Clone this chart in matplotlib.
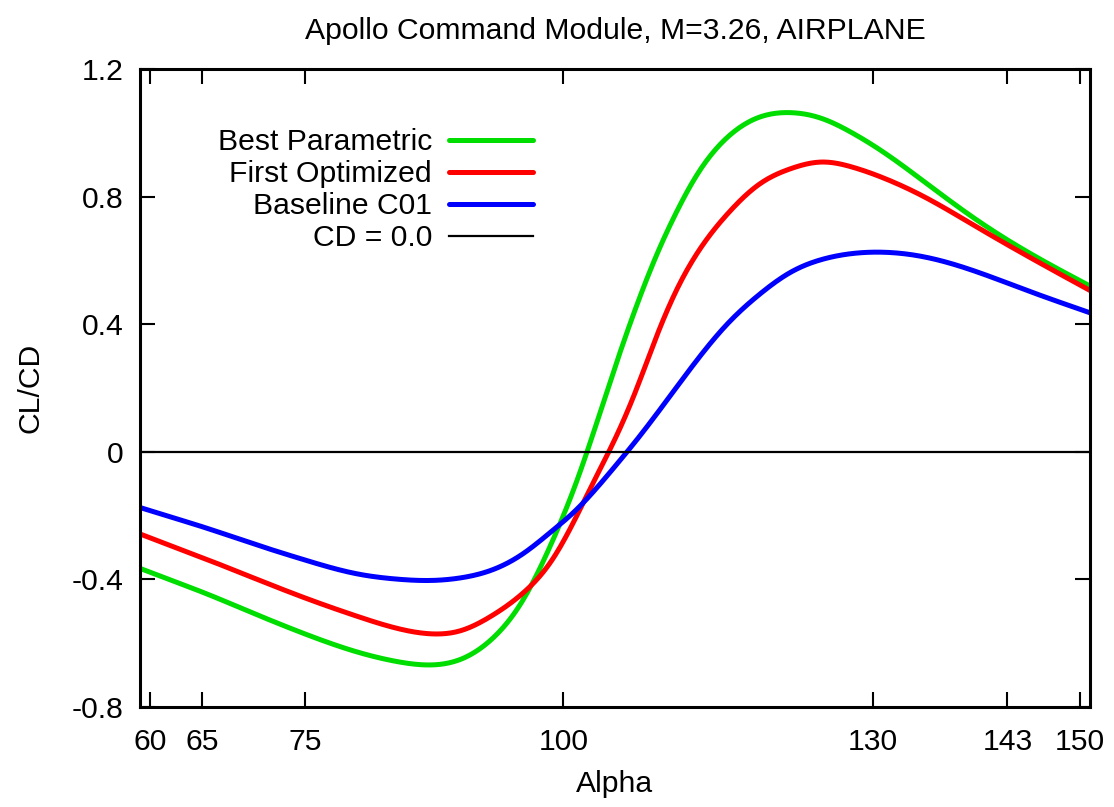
import numpy as np
import matplotlib
matplotlib.use("Agg")
import matplotlib.pyplot as plt

# ---- data ----
alpha = [59, 62, 65, 70, 75, 80, 84, 87, 90, 93, 96, 99, 101, 103, 105, 107,
         109, 111, 113, 116, 119, 122, 125, 128, 131, 135, 140, 145, 151]
best_parametric = [-0.366, -0.403, -0.440, -0.507, -0.572, -0.628, -0.659, -0.669,
                   -0.652, -0.590, -0.470, -0.276, -0.118, 0.068, 0.265, 0.450,
                   0.615, 0.755, 0.872, 0.990, 1.050, 1.064, 1.046, 1.000,
                   0.940, 0.846, 0.728, 0.626, 0.520]
first_optimized = [-0.258, -0.295, -0.332, -0.396, -0.459, -0.516, -0.555, -0.571,
                   -0.562, -0.516, -0.446, -0.335, -0.220, -0.090, 0.040, 0.190,
                   0.360, 0.510, 0.625, 0.750, 0.840, 0.888, 0.909, 0.893,
                   0.859, 0.799, 0.706, 0.613, 0.506]
baseline_c01 = [-0.175, -0.205, -0.235, -0.289, -0.340, -0.383, -0.400, -0.404,
                -0.396, -0.372, -0.322, -0.246, -0.190, -0.122, -0.046, 0.033,
                0.117, 0.204, 0.290, 0.405, 0.494, 0.563, 0.603, 0.622,
                0.626, 0.611, 0.565, 0.505, 0.436]

series_labels = ["Best Parametric", "First Optimized", "Baseline C01"]
series_colors = ["#00dd00", "#ff0000", "#0000ff"]
x_ticks = [60, 65, 75, 100, 130, 143, 150]
y_ticks = [-0.8, -0.4, 0, 0.4, 0.8, 1.2]
y_tick_labels = ["-0.8", "-0.4", "0", "0.4", "0.8", "1.2"]


def natural_spline(x, y, n=600):
    """Render a smooth curve through the data points (natural cubic spline)."""
    x = np.asarray(x, float)
    y = np.asarray(y, float)
    k = len(x)
    h = np.diff(x)
    A = np.zeros((k, k))
    b = np.zeros(k)
    A[0, 0] = A[-1, -1] = 1.0
    for i in range(1, k - 1):
        A[i, i - 1] = h[i - 1]
        A[i, i] = 2 * (h[i - 1] + h[i])
        A[i, i + 1] = h[i]
        b[i] = 3 * ((y[i + 1] - y[i]) / h[i] - (y[i] - y[i - 1]) / h[i - 1])
    c = np.linalg.solve(A, b)
    xs = np.linspace(x[0], x[-1], n)
    idx = np.clip(np.searchsorted(x, xs) - 1, 0, k - 2)
    dx = xs - x[idx]
    hi = h[idx]
    bi = (y[idx + 1] - y[idx]) / hi - hi * (2 * c[idx] + c[idx + 1]) / 3
    di = (c[idx + 1] - c[idx]) / (3 * hi)
    ys = y[idx] + bi * dx + c[idx] * dx ** 2 + di * dx ** 3
    return xs, ys


plt.rcParams["font.family"] = ["Liberation Sans", "DejaVu Sans"]
FS = 21.7

fig = plt.figure(figsize=(11.14, 8.07), dpi=100)
W, H = 1114, 807
ax = fig.add_axes([140 / W, 1 - 706.7 / H, (1090 - 140) / W, (706.7 - 69.3) / H])

for ys, lab, col in zip([best_parametric, first_optimized, baseline_c01],
                        series_labels, series_colors):
    xs, yy = natural_spline(alpha, ys)
    ax.plot(xs, yy, color=col, lw=3.6, label=lab, solid_capstyle="round")

ax.axhline(0, color="black", lw=1.6, label="CD = 0.0")

ax.set_xlim(59, 151)
ax.set_ylim(-0.8, 1.2)
ax.set_xticks(x_ticks)
ax.set_xticklabels([str(t) for t in x_ticks])
ax.set_yticks(y_ticks)
ax.set_yticklabels(y_tick_labels)
ax.tick_params(axis="both", which="major", direction="in", top=True, right=True,
               length=10.8, width=1.5, labelsize=FS)
ax.tick_params(axis="x", pad=15)
ax.tick_params(axis="y", pad=12)
for sp in ax.spines.values():
    sp.set_linewidth(2.2)

ax.set_title("Apollo Command Module, M=3.26, AIRPLANE", fontsize=FS, pad=22)
ax.set_xlabel("Alpha", fontsize=FS)
ax.set_ylabel("CL/CD", fontsize=FS)
ax.xaxis.set_label_coords(0.5, -(770 - 706.7) / 637.4)
ax.yaxis.set_label_coords(-(140 - 45) / 950, 0.5)

leg = ax.legend(loc="upper right", bbox_to_anchor=(533 / W, 1 - 128.5 / H),
                bbox_transform=fig.transFigure, frameon=False, markerfirst=False,
                fontsize=FS, handlelength=2.8, handletextpad=0.55,
                labelspacing=0.13, borderpad=0, borderaxespad=0)

fig.savefig("out.png", dpi=100)
